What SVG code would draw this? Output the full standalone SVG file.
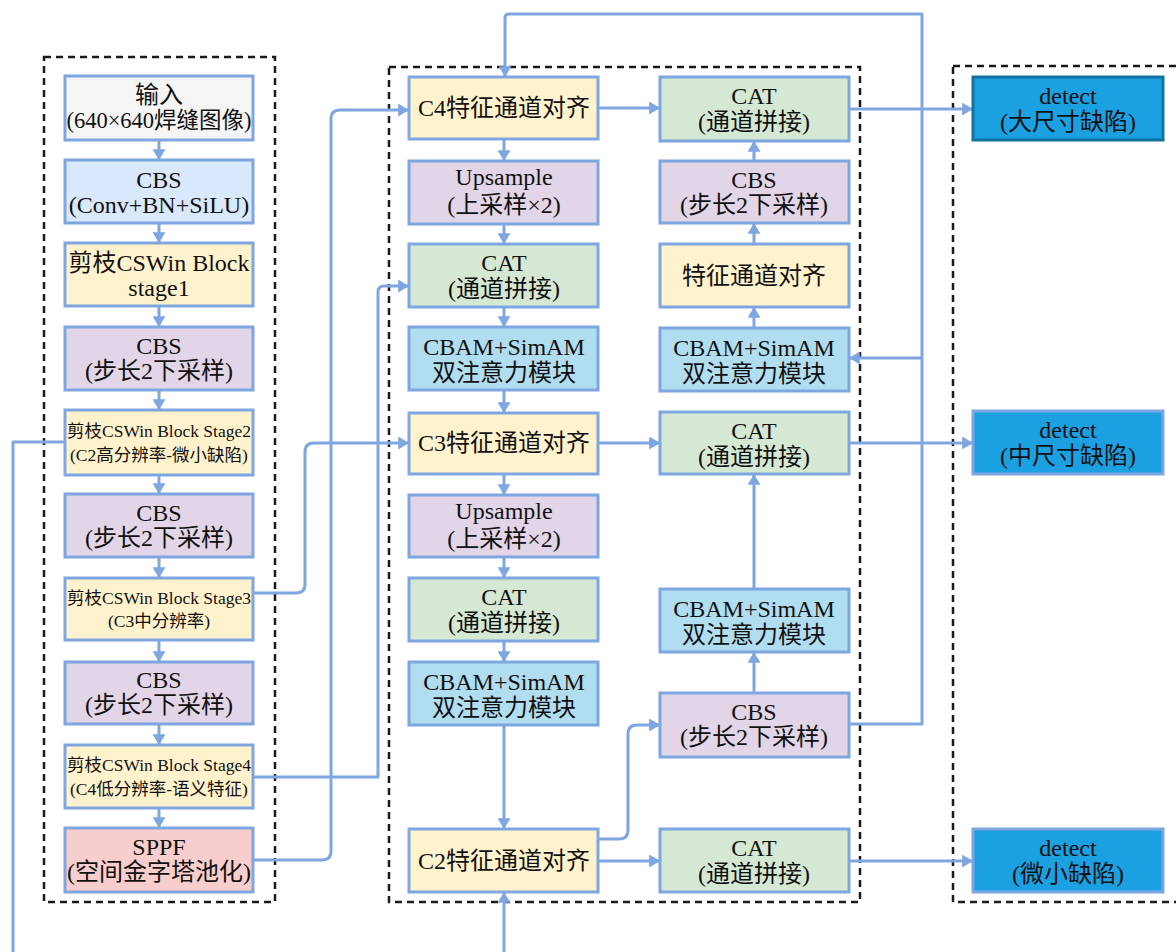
<svg xmlns="http://www.w3.org/2000/svg" width="1176" height="952" viewBox="0 0 1176 952">
<style>
.bx{stroke:#7ea6e0;stroke-width:3}
.gr{fill:#f5f5f5}.bl{fill:#dae8fc}.ye{fill:#fff2cc}.pu{fill:#e1d5e7}.pk{fill:#f8cecc}.gn{fill:#d5e8d4}.cy{fill:#b1ddf0}.dt{fill:#1ba1e2}
.t{font-family:"Liberation Serif","Noto Sans CJK SC",serif;font-size:24px;fill:#111;text-anchor:middle}
.s{font-size:17.5px}
.m{font-size:22.5px}
.c{fill:none;stroke:#7ea6e0;stroke-width:3;stroke-linejoin:round}
.dash{fill:none;stroke:#1a1a1a;stroke-width:2.5;stroke-dasharray:7 5}
</style>
<defs>
<marker id="ah" markerUnits="userSpaceOnUse" viewBox="0 0 10 12" markerWidth="11" markerHeight="13" refX="10" refY="6" orient="auto">
<path d="M0,0 L10,6 L0,12 z" fill="#7ea6e0"/>
</marker>
</defs>
<rect width="1176" height="952" fill="#ffffff"/>
<g id="frames">
<rect class="dash" x="44" y="57" width="231" height="845"/>
<rect class="dash" x="389" y="67" width="471" height="835"/>
<rect class="dash" x="953" y="66" width="260" height="836"/>
</g>
<g id="connectors">
<path class="c" marker-end="url(#ah)" d="M159,140 V160"/>
<path class="c" marker-end="url(#ah)" d="M159,223 V243"/>
<path class="c" marker-end="url(#ah)" d="M159,306 V327"/>
<path class="c" marker-end="url(#ah)" d="M159,390 V410"/>
<path class="c" marker-end="url(#ah)" d="M159,475 V494"/>
<path class="c" marker-end="url(#ah)" d="M159,557 V578"/>
<path class="c" marker-end="url(#ah)" d="M159,640 V662"/>
<path class="c" marker-end="url(#ah)" d="M159,724 V745"/>
<path class="c" marker-end="url(#ah)" d="M159,808 V828"/>
<path class="c" marker-end="url(#ah)" d="M504,139 V161"/>
<path class="c" marker-end="url(#ah)" d="M504,224 V244"/>
<path class="c" marker-end="url(#ah)" d="M504,307 V327"/>
<path class="c" marker-end="url(#ah)" d="M504,390 V413"/>
<path class="c" marker-end="url(#ah)" d="M504,474 V495"/>
<path class="c" marker-end="url(#ah)" d="M504,557 V578"/>
<path class="c" marker-end="url(#ah)" d="M504,641 V662"/>
<path class="c" marker-end="url(#ah)" d="M504,725 V829"/>
<path class="c" marker-end="url(#ah)" d="M504,952 V892"/>
<path class="c" marker-end="url(#ah)" d="M754,161 V141"/>
<path class="c" marker-end="url(#ah)" d="M754,244 V223"/>
<path class="c" marker-end="url(#ah)" d="M754,328 V307"/>
<path class="c" marker-end="url(#ah)" d="M754,589 V474"/>
<path class="c" marker-end="url(#ah)" d="M754,693 V652"/>
<path class="c" marker-end="url(#ah)" d="M598,108 H660"/>
<path class="c" marker-end="url(#ah)" d="M598,443 H660"/>
<path class="c" marker-end="url(#ah)" d="M598,861 H660"/>
<path class="c" marker-end="url(#ah)" d="M849,109 H973"/>
<path class="c" marker-end="url(#ah)" d="M849,443 H973"/>
<path class="c" marker-end="url(#ah)" d="M849,861 H973"/>
<path class="c" marker-end="url(#ah)" d="M849,724 H922 V14 H509 Q505,14 505,18 V77"/>
<path class="c" marker-end="url(#ah)" d="M922,358 H849"/>
<path class="c" marker-end="url(#ah)" d="M253,860 H322 Q331,860 331,851 V119 Q331,110 340,110 H409"/>
<path class="c" marker-end="url(#ah)" d="M253,777 H378 V292 Q378,286 384,286 H409"/>
<path class="c" marker-end="url(#ah)" d="M253,593 H296 Q305,593 305,584 V452 Q305,443 314,443 H409"/>
<path class="c" d="M65,442 H13 V952"/>
<path class="c" marker-end="url(#ah)" d="M598,839 H619 Q628,839 628,830 V734 Q628,725 637,725 H660"/>
</g>
<g id="n_input"><rect class="bx gr" x="65" y="76" width="188" height="64"/><text class="t" x="159" y="103">输入</text><text class="t m" x="159" y="128">(640×640焊缝图像)</text></g>
<g id="n_cbs0"><rect class="bx bl" x="65" y="160" width="188" height="63"/><text class="t" x="159" y="188">CBS</text><text class="t" x="159" y="213">(Conv+BN+SiLU)</text></g>
<g id="n_stage1"><rect class="bx ye" x="65" y="243" width="188" height="63"/><text class="t" x="159" y="271">剪枝CSWin Block</text><text class="t" x="159" y="296">stage1</text></g>
<g id="n_cbs1"><rect class="bx pu" x="65" y="327" width="188" height="63"/><text class="t" x="159" y="354">CBS</text><text class="t" x="159" y="379">(步长2下采样)</text></g>
<g id="n_stage2"><rect class="bx ye" x="65" y="410" width="188" height="65"/><text class="t s" x="159" y="437">剪枝CSWin Block Stage2</text><text class="t s" x="159" y="461">(C2高分辨率-微小缺陷)</text></g>
<g id="n_cbs2"><rect class="bx pu" x="65" y="494" width="188" height="63"/><text class="t" x="159" y="521">CBS</text><text class="t" x="159" y="546">(步长2下采样)</text></g>
<g id="n_stage3"><rect class="bx ye" x="65" y="578" width="188" height="62"/><text class="t s" x="159" y="604">剪枝CSWin Block Stage3</text><text class="t s" x="159" y="627">(C3中分辨率)</text></g>
<g id="n_cbs3"><rect class="bx pu" x="65" y="662" width="188" height="62"/><text class="t" x="159" y="688">CBS</text><text class="t" x="159" y="713">(步长2下采样)</text></g>
<g id="n_stage4"><rect class="bx ye" x="65" y="745" width="188" height="63"/><text class="t s" x="159" y="771">剪枝CSWin Block Stage4</text><text class="t s" x="159" y="795">(C4低分辨率-语义特征)</text></g>
<g id="n_sppf"><rect class="bx pk" x="65" y="828" width="188" height="64"/><text class="t" x="159" y="855">SPPF</text><text class="t" x="159" y="880">(空间金字塔池化)</text></g>

<g id="m_c4"><rect class="bx ye" x="409" y="77" width="189" height="62"/><text class="t" x="504" y="116">C4特征通道对齐</text></g>
<g id="m_up1"><rect class="bx pu" x="409" y="161" width="189" height="63"/><text class="t" x="504" y="185">Upsample</text><text class="t" x="504" y="213">(上采样×2)</text></g>
<g id="m_cat1"><rect class="bx gn" x="409" y="244" width="189" height="63"/><text class="t" x="504" y="271">CAT</text><text class="t" x="504" y="297">(通道拼接)</text></g>
<g id="m_cbam1"><rect class="bx cy" x="409" y="327" width="189" height="63"/><text class="t" x="504" y="355">CBAM+SimAM</text><text class="t" x="504" y="381">双注意力模块</text></g>
<g id="m_c3"><rect class="bx ye" x="409" y="413" width="189" height="61"/><text class="t" x="504" y="451">C3特征通道对齐</text></g>
<g id="m_up2"><rect class="bx pu" x="409" y="495" width="189" height="62"/><text class="t" x="504" y="519">Upsample</text><text class="t" x="504" y="547">(上采样×2)</text></g>
<g id="m_cat2"><rect class="bx gn" x="409" y="578" width="189" height="63"/><text class="t" x="504" y="605">CAT</text><text class="t" x="504" y="631">(通道拼接)</text></g>
<g id="m_cbam2"><rect class="bx cy" x="409" y="662" width="189" height="63"/><text class="t" x="504" y="690">CBAM+SimAM</text><text class="t" x="504" y="716">双注意力模块</text></g>
<g id="m_c2"><rect class="bx ye" x="409" y="829" width="189" height="63"/><text class="t" x="504" y="869">C2特征通道对齐</text></g>

<g id="r_cat1"><rect class="bx gn" x="660" y="77" width="189" height="64"/><text class="t" x="754" y="104">CAT</text><text class="t" x="754" y="130">(通道拼接)</text></g>
<g id="r_cbs1"><rect class="bx pu" x="660" y="161" width="189" height="62"/><text class="t" x="754" y="188">CBS</text><text class="t" x="754" y="213">(步长2下采样)</text></g>
<g id="r_align"><rect class="bx ye" x="660" y="244" width="189" height="63"/><text class="t" x="754" y="284">特征通道对齐</text></g>
<g id="r_cbam1"><rect class="bx cy" x="660" y="328" width="189" height="63"/><text class="t" x="754" y="356">CBAM+SimAM</text><text class="t" x="754" y="382">双注意力模块</text></g>
<g id="r_cat2"><rect class="bx gn" x="660" y="412" width="189" height="62"/><text class="t" x="754" y="439">CAT</text><text class="t" x="754" y="465">(通道拼接)</text></g>
<g id="r_cbam2"><rect class="bx cy" x="660" y="589" width="189" height="63"/><text class="t" x="754" y="617">CBAM+SimAM</text><text class="t" x="754" y="643">双注意力模块</text></g>
<g id="r_cbs2"><rect class="bx pu" x="660" y="693" width="189" height="64"/><text class="t" x="754" y="720">CBS</text><text class="t" x="754" y="745">(步长2下采样)</text></g>
<g id="r_cat3"><rect class="bx gn" x="660" y="829" width="189" height="63"/><text class="t" x="754" y="856">CAT</text><text class="t" x="754" y="882">(通道拼接)</text></g>

<g id="d_large"><rect class="dt" x="973" y="77" width="190" height="63" stroke="#10739e" stroke-width="3"/><text class="t" x="1068" y="104">detect</text><text class="t" x="1068" y="130">(大尺寸缺陷)</text></g>
<g id="d_mid"><rect class="bx dt" x="973" y="411" width="190" height="63"/><text class="t" x="1068" y="438">detect</text><text class="t" x="1068" y="464">(中尺寸缺陷)</text></g>
<g id="d_small"><rect class="bx dt" x="973" y="829" width="190" height="63"/><text class="t" x="1068" y="856">detect</text><text class="t" x="1068" y="882">(微小缺陷)</text></g>
</svg>
